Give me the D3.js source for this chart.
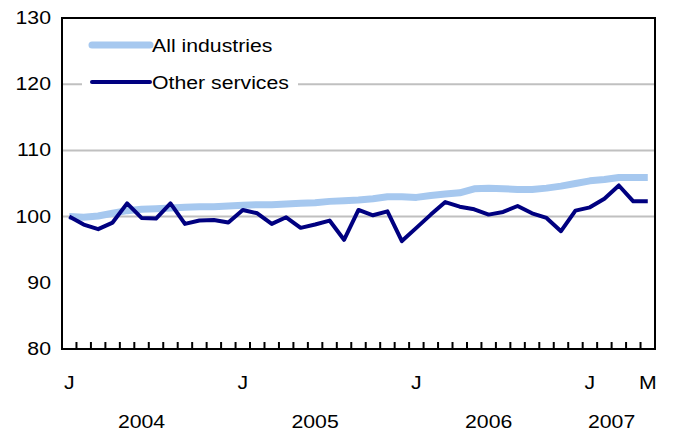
<!DOCTYPE html>
<html><head><meta charset="utf-8">
<script src="https://cdn.jsdelivr.net/npm/d3@7"></script>
<style>body{margin:0;background:#fff;font-family:"Liberation Sans",Arial,sans-serif;}</style>
</head><body>
<script>
//chart data, Jan 2004 - May 2007
var allIndustries = [100.0, 99.9, 100.1, 100.5, 100.9, 101.1, 101.2, 101.3, 101.4, 101.5, 101.5, 101.6,
    101.7, 101.8, 101.8, 101.9, 102.0, 102.1, 102.3, 102.4, 102.5, 102.7, 103.0, 103.0,
    102.9, 103.2, 103.4, 103.6, 104.2, 104.3, 104.2, 104.1, 104.1, 104.3, 104.6, 105.0,
    105.4, 105.6, 105.9, 105.9, 105.9];
var otherServices = [100.0, 98.8, 98.1, 99.1, 102.0, 99.8, 99.7, 102.0, 98.9, 99.4, 99.5, 99.1,
    101.0, 100.5, 98.9, 99.9, 98.3, 98.8, 99.4, 96.5, 101.0, 100.2, 100.8, 96.3,
    98.3, 100.3, 102.2, 101.5, 101.1, 100.3, 100.7, 101.6, 100.5, 99.8, 97.8, 100.9,
    101.4, 102.7, 104.7, 102.3, 102.3];
var yTicks = [80, 90, 100, 110, 120, 130];
var monthLabels = [[0, "J"], [12, "J"], [24, "J"], [36, "J"], [40, "M"]];
var yearLabels = [[5.5, "2004"], [17.5, "2005"], [29.5, "2006"], [38, "2007"]];

(function () {
var width = 673, height = 439;
var mLeft = 62, mRight = 655, mTop = 18, mBottom = 349;
var n = allIndustries.length;

var svg = d3.select("body").append("svg").attr("width", width).attr("height", height);

var x = d3.scaleLinear().domain([0, n]).range([mLeft, mRight]);
var y = d3.scaleLinear().domain([80, 130]).range([mBottom, mTop]);

//gridlines
svg.selectAll(".grid").data([100, 110, 120]).enter().append("line")
    .attr("x1", mLeft).attr("x2", mRight)
    .attr("y1", function (d) { return y(d); }).attr("y2", function (d) { return y(d); })
    .attr("stroke", "#c0c0c0").attr("stroke-width", 2);

//legend background hides gridline
svg.append("rect").attr("x", 82).attr("y", 28).attr("width", 216).attr("height", 70).attr("fill", "#fff");

var line = d3.line()
    .x(function (d, i) { return x(i + 0.5); })
    .y(function (d) { return y(d); });

svg.append("path").datum(allIndustries).attr("d", line)
    .attr("fill", "none").attr("stroke", "#a6c8ef").attr("stroke-width", 7).attr("stroke-linejoin", "round");
svg.append("path").datum(otherServices).attr("d", line)
    .attr("fill", "none").attr("stroke", "#000080").attr("stroke-width", 4).attr("stroke-linejoin", "round");

//frame
svg.append("rect").attr("x", mLeft).attr("y", mTop).attr("width", mRight - mLeft).attr("height", mBottom - mTop)
    .attr("fill", "none").attr("stroke", "#000").attr("stroke-width", 2);

//x ticks
svg.selectAll(".xt").data(d3.range(1, n)).enter().append("line")
    .attr("x1", function (d) { return x(d); }).attr("x2", function (d) { return x(d); })
    .attr("y1", mBottom).attr("y2", mBottom - 7).attr("stroke", "#000").attr("stroke-width", 2);

//y labels
svg.selectAll(".yl").data(yTicks).enter().append("text")
    .attr("class", "lbl")
    .attr("x", 51).attr("y", function (d) { return y(d) + 6; })
    .attr("text-anchor", "end").text(function (d) { return d; });

svg.selectAll(".ml").data(monthLabels).enter().append("text")
    .attr("class", "lbl")
    .attr("x", function (d) { return x(d[0] + 0.5); }).attr("y", 389)
    .attr("text-anchor", "middle").text(function (d) { return d[1]; });

svg.selectAll(".yr").data(yearLabels).enter().append("text")
    .attr("class", "lbl")
    .attr("x", function (d) { return x(d[0]); }).attr("y", 428)
    .attr("text-anchor", "middle").text(function (d) { return d[1]; });

//legend
var legend = [["All industries", "#a6c8ef", 7, 45], ["Other services", "#000080", 4, 82]];
legend.forEach(function (l) {
    svg.append("line").attr("x1", 92).attr("x2", 150).attr("y1", l[3]).attr("y2", l[3])
        .attr("stroke", l[1]).attr("stroke-width", l[2]).attr("stroke-linecap", "round");
    svg.append("text").attr("class", "lbl").attr("x", 152).attr("y", l[3] + 7).text(l[0]);
});

//the reference text is set wider than the font; stretch it
svg.selectAll(".lbl").attr("font-size", 18).each(function () {
    var w = this.getComputedTextLength();
    d3.select(this).attr("textLength", w * 1.18).attr("lengthAdjust", "spacingAndGlyphs");
});
})();
</script>
</body></html>
